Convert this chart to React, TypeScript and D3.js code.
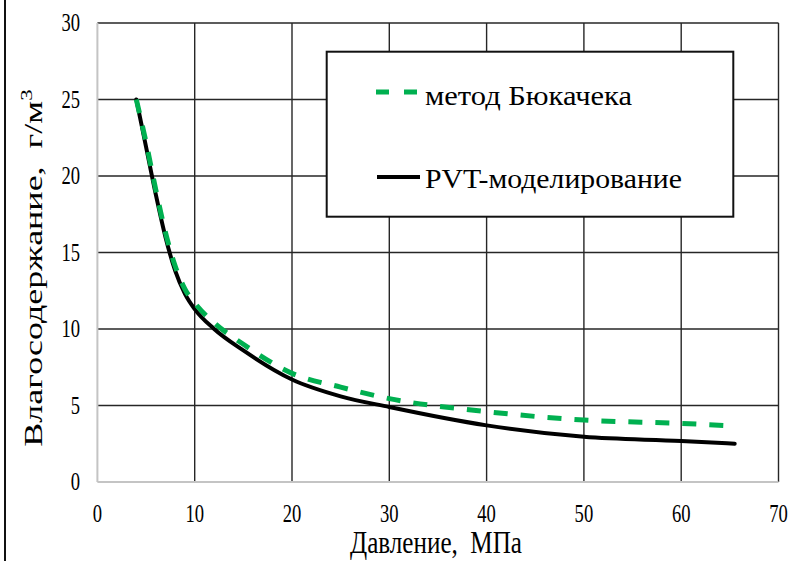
import * as d3 from "d3";

// pressure, MPa
const pressure = [4, 5, 6, 7, 8, 9, 10, 12, 15, 20, 25, 30, 40, 50, 60, 65.5];
// water content, g/m3
const bukacek = [25, 22.2, 19.1, 16.3, 14.1, 12.6, 11.7, 10.4, 9.0, 7.1, 6.2, 5.45, 4.6, 4.05, 3.83, 3.66];
const pvt = [25, 21.9, 18.8, 16.0, 13.8, 12.3, 11.3, 10.0, 8.6, 6.7, 5.6, 4.9, 3.7, 2.95, 2.68, 2.5];

const xTicks = [0, 10, 20, 30, 40, 50, 60, 70];
const yTicks = [0, 5, 10, 15, 20, 25, 30];
const legendLabels = ["метод Бюкачека", "PVT-моделирование"];

const W = 789;
const H = 561;
const SX = 0.72; // text looks squeezed horizontally
const font = "'Liberation Serif', 'Times New Roman', serif";

export default function App() {
  const x = d3.scaleLinear().domain([0, 70]).range([97.4, 778.5]);
  const y = d3.scaleLinear().domain([0, 30]).range([482, 23]);

  const line = d3
    .line<number>()
    .x((d, i) => x(pressure[i]))
    .y((d) => y(d))
    .curve(d3.curveMonotoneX);

  return (
    <svg
      width={W}
      height={H}
      style={{ position: "absolute", left: 0, top: 0, background: "#fff" }}
      fontFamily={font}
    >
      <line x1={5} x2={5} y1={0} y2={H} stroke="#111" strokeWidth={2} />

      {/* grid */}
      {yTicks.filter((t) => t > 0).map((t) => (
        <line key={"h" + t} x1={x(0)} x2={x(70)} y1={y(t)} y2={y(t)} stroke="#262626" strokeWidth={1.4} />
      ))}
      {xTicks.filter((t) => t > 0).map((t) => (
        <line key={"v" + t} x1={x(t)} x2={x(t)} y1={y(0)} y2={y(30)} stroke="#262626" strokeWidth={1.4} />
      ))}
      <line x1={x(0)} x2={x(0)} y1={y(0)} y2={y(30)} stroke="#c4c4c4" strokeWidth={2} />
      <line x1={x(0)} x2={x(70)} y1={y(0)} y2={y(0)} stroke="#c4c4c4" strokeWidth={2} />

      {/* tick labels */}
      {yTicks.map((t) => (
        <text key={"yl" + t} transform={`translate(80,${y(t) + 8}) scale(0.76,1)`} textAnchor="end" fontSize={24.5} fill="#000">
          {t}
        </text>
      ))}
      {xTicks.map((t) => (
        <text key={"xl" + t} transform={`translate(${x(t)},${522}) scale(0.76,1)`} textAnchor="middle" fontSize={24.5} fill="#000">
          {t}
        </text>
      ))}

      {/* axis titles */}
      <text x={350} y={553} textLength={172} lengthAdjust="spacingAndGlyphs" fontSize={31} fill="#000" xmlSpace="preserve">
        {"Давление,  МПа"}
      </text>
      <text transform={`translate(42,268) scale(${SX},1) rotate(-90)`} textAnchor="middle" fontSize={36} fill="#000" xmlSpace="preserve">
        {"Влагосодержание,  г/м"}<tspan dy={-14} fontSize={23}>3</tspan>
      </text>

      {/* series */}
      <path d={line(pvt) ?? ""} fill="none" stroke="#000" strokeWidth={4} strokeLinejoin="round" strokeLinecap="round" />
      <path d={line(bukacek) ?? ""} fill="none" stroke="#00b050" strokeWidth={5} strokeDasharray="14,13" />

      {/* legend */}
      <rect x={326.7} y={51.7} width={406.6} height={165} fill="#fff" stroke="#111" strokeWidth={2} />
      <line x1={376} x2={417} y1={92} y2={92} stroke="#00b050" strokeWidth={5} strokeDasharray="13,15" />
      <line x1={377} x2={420} y1={177} y2={177} stroke="#000" strokeWidth={4} />
      <text x={425} y={105} textLength={207} lengthAdjust="spacingAndGlyphs" fontSize={28} fill="#000">
        {legendLabels[0]}
      </text>
      <text x={425} y={188} textLength={257} lengthAdjust="spacingAndGlyphs" fontSize={28} fill="#000">
        {legendLabels[1]}
      </text>
    </svg>
  );
}
